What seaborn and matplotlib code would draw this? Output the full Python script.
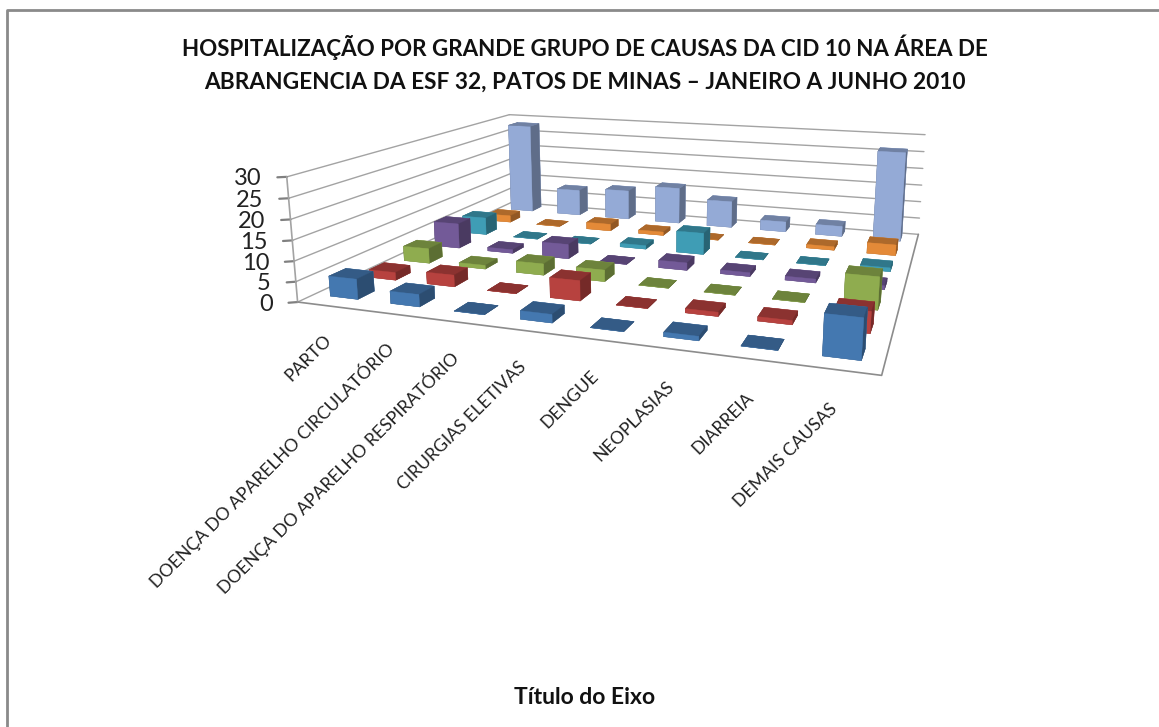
import numpy as np
import matplotlib
matplotlib.use("Agg")
import matplotlib.pyplot as plt
from matplotlib.lines import Line2D
from matplotlib.transforms import offset_copy
from mpl_toolkits.mplot3d import proj3d
import seaborn as sns

# Datos
categorias = ["PARTO", "DOENÇA DO APARELHO CIRCULATÓRIO", "DOENÇA DO APARELHO RESPIRATÓRIO",
              "CIRURGIAS ELETIVAS", "DENGUE", "NEOPLASIAS", "DIARREIA", "DEMAIS CAUSAS"]
azul = [5, 3, 0, 2, 0, 1, 0, 9]
rojo = [2, 3, 0, 5, 0, 1, 1, 5]
verde = [4, 1, 3, 3, 0, 0, 0, 8]
morado = [7, 1, 4, 0, 2, 1, 1, 1]
turquesa = [5, 0, 0, 1, 6, 0, 0, 1]
naranja = [2, 0, 2, 1, 0, 0, 1, 3]
celeste = [28, 8, 9, 11, 8, 3, 3, 26]
series = [azul, rojo, verde, morado, turquesa, naranja, celeste]
ticks_z = [0, 5, 10, 15, 20, 25, 30]

sns.set_style("white")
plt.rcParams['font.family'] = ['Lato', 'DejaVu Sans']
colores = sns.color_palette(["#4478b0", "#b7423f", "#8fac4f", "#735a98", "#3f9db5", "#e48a38", "#94aad6"])

ANCHO, ALTO = 1159, 727
fig = plt.figure(figsize=(ANCHO / 100, ALTO / 100), dpi=100)
ax = fig.add_axes([0, 0, ALTO / ANCHO, 1], projection="3d")
ax.computed_zorder = False
ax.set_axis_off()

# Camara ajustada a las esquinas del grafico
ax.view_init(elev=13.26, azim=-71.1)
ax.set_proj_type("persp", focal_length=0.2728)
ax.set_box_aspect((1, 0.8349, 0.2236))

# Posicion de los ejes: escala y origen de la vista en pixeles
escala, tx, ty = 3537.08, 644.70, ALTO - 209.45
p = ax.transData.transform([[0, 0], [1, 0]])
escala0 = p[1, 0] - p[0, 0]
f = ax.transAxes.inverted().transform(p[0])
lado = ALTO * escala / escala0
izq = tx - f[0] * lado
aba = ty - f[1] * lado
ax.set_position([izq / ANCHO, aba / ALTO, lado / ANCHO, lado / ALTO])

n_cat = len(categorias)
n_ser = len(series)
gris = "#a3a3a3"

# Paredes y rejilla
for z in ticks_z:
    ax.plot([0, 0], [0, n_ser], [z, z], color=gris, lw=1.0, zorder=1, clip_on=False)
    ax.plot([0, n_cat], [n_ser, n_ser], [z, z], color=gris, lw=1.0, zorder=1, clip_on=False)
    ax.plot([-0.1, 0], [-0.07, 0], [z, z], color="#808080", lw=1.6, zorder=1, clip_on=False)
ax.plot([0, 0], [0, 0], [0, 30], color=gris, lw=1.2, zorder=1, clip_on=False)
ax.plot([0, n_cat, n_cat], [0, 0, n_ser], [0, 0, 0], color="#8c8c8c", lw=1.2, zorder=1, clip_on=False)

# Barras de atras hacia adelante
ancho = 0.46
fondo = 0.42
orden = 2
for s in range(n_ser - 1, -1, -1):
    base = np.array(colores[s])
    for c in range(n_cat):
        arriba = base * 0.76
        lado_d = base * 0.64
        tono = [tuple(t) for t in [arriba, arriba, base, base, lado_d, lado_d]]
        barra = ax.bar3d(c + (1 - ancho) / 2, s + (1 - fondo) / 2 + 0.1, 0, ancho, fondo, series[s][c],
                         color=tono, edgecolor=tono, linewidth=0.3, shade=False, zorder=orden)
        barra.set_clip_on(False)
        orden += 1

ax.set_xlim(0, n_cat)
ax.set_ylim(0, n_ser)
ax.set_zlim(0, 30)


def en_vista(x, y, z):
    u, v, _ = proj3d.proj_transform(x, y, z, ax.get_proj())
    return u, v


# Numeros del eje, a 25 px del eje
trans_z = offset_copy(ax.transData, fig=fig, x=-25 * 0.72, y=-1.5, units="points")
for z in ticks_z:
    u, v = en_vista(0, 0, z)
    ax.text2D(u, v, str(z), transform=trans_z, fontsize=17, ha="right", va="center", color="#222222")

# Etiquetas de categorias
trans_c = offset_copy(ax.transData, fig=fig, x=-1 * 0.72, y=0, units="points")
for c, nombre in enumerate(categorias):
    u, v = en_vista(c + 0.5, 0, -7.7)
    ax.text2D(u, v, nombre, transform=trans_c, rotation=45, ha="right", va="center",
              rotation_mode="anchor", fontsize=12.7, color="#222222")

# Titulos y marco
fig.text(585 / ANCHO, 1 - 47 / ALTO, "HOSPITALIZAÇÃO POR GRANDE GRUPO DE CAUSAS DA CID 10 NA ÁREA DE",
         ha="center", va="center", fontsize=16.1, fontweight="bold", color="#111111")
fig.text(585 / ANCHO, 1 - 82 / ALTO, "ABRANGENCIA DA ESF 32, PATOS DE MINAS – JANEIRO A JUNHO 2010",
         ha="center", va="center", fontsize=16.3, fontweight="bold", color="#111111")
fig.text(585 / ANCHO, 1 - 697 / ALTO, "Título do Eixo", ha="center", va="center",
         fontsize=16.5, fontweight="bold", color="#111111")

fig.add_artist(Line2D([6.5 / ANCHO, 6.5 / ANCHO, 1], [0, 1 - 9.5 / ALTO, 1 - 9.5 / ALTO],
                      color="#8a8a8a", lw=2.0))

fig.savefig("out.png", dpi=100)
